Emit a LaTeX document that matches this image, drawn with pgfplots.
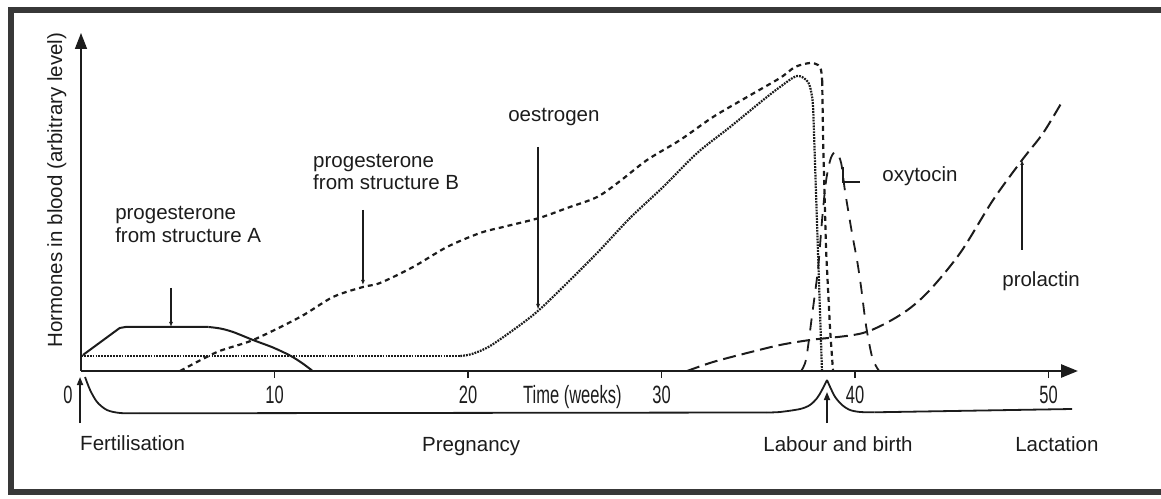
\documentclass[border=0pt]{standalone}
\usepackage{pgfplots}
\pgfplotsset{compat=1.18}
\usetikzlibrary{arrows.meta}
\usepackage{fontspec}
\setmainfont{Liberation Sans}
\newfontfamily\narrowfont[FakeStretch=0.66]{Liberation Sans}
\definecolor{ink}{HTML}{1C1C1C}
\newcommand\lbl{\fontsize{20.5}{24}\selectfont}
\newcommand\tck{\narrowfont\fontsize{25}{28}\selectfont}
\begin{document}
\begin{tikzpicture}
\useasboundingbox (0,0) rectangle (1161pt,498pt);
\draw[line width=6pt, color=black!78] (1165pt,488pt) -- (10.5pt,488pt) -- (10.5pt,6pt) -- (1165pt,6pt);
\begin{axis}[
  at={(81pt,127pt)}, anchor=south west,
  scale only axis, width=997pt, height=338pt,
  xmin=0, xmax=51.52, ymin=0, ymax=338,
  clip=false,
  axis lines=left,
  x axis line style={line width=2.6pt, color=ink, -{Triangle[length=17pt,width=13pt]}},
  y axis line style={line width=1.6pt, color=ink, -{Triangle[length=16pt,width=12pt]}},
  ytick=\empty,
  xtick={10,20,30,40,50},
  tick align=outside, major tick length=7pt,
  tick style={line width=1.5pt, color=ink},
  /pgf/number format/assume math mode=true,
  xticklabel style={font=\tck, anchor=base, inner sep=0pt, yshift=-25pt, text=ink},
  every node/.style={text=ink},
]
% progesterone from structure A (solid)
\addplot[ink, line width=2pt, sharp plot] coordinates {(0.10,16) (2.0,43) (2.3,44) (6.6,44)};
\addplot[ink, line width=2pt, smooth] coordinates {(6.6,44) (7.2,42.5) (7.86,39) (8.89,31) (9.92,23.5) (10.8,15.5) (11.42,8) (11.94,0.5)};
% oestrogen (fine dotted)
\addplot[ink, line width=2.2pt, dash pattern=on 1.8pt off 1.1pt, sharp plot] coordinates {(0,15) (19.6,15)};
\addplot[ink, line width=2.2pt, dash pattern=on 1.8pt off 1.1pt, smooth] coordinates {(19.6,15) (20.2,17) (21.14,25) (22.69,46) (23.67,61) (24.91,84) (26.67,118) (28.37,153) (30.08,184) (31.84,218) (33.54,244) (35.25,271) (36.12,284) (37.00,295) (37.57,289) (37.78,274) (37.84,260)};
\addplot[ink, line width=2.2pt, dash pattern=on 1.8pt off 1.1pt, sharp plot] coordinates {(37.84,260) (38.29,0)};
% progesterone from structure B (short dashes)
\addplot[ink, line width=2.2pt, dash pattern=on 5pt off 4pt, smooth] coordinates {(5.12,0) (7.03,19) (8.89,31) (11.32,54) (13.02,74) (14.57,84) (15.45,88) (17.16,104) (18.91,124) (20.62,138) (21.81,144) (23.67,153) (25.12,163) (26.67,174) (27.86,190) (29.25,211) (30.96,231) (32.66,254) (34.42,274) (36.12,293) (36.90,304) (37.67,308) (38.09,306) (38.24,301) (38.30,290)};
\addplot[ink, line width=2.2pt, dash pattern=on 5pt off 4pt, sharp plot] coordinates {(38.30,290) (38.36,220) (38.50,121) (38.71,41) (38.86,0)};
% oxytocin (long dashes)
\addplot[ink, line width=1.8pt, dash pattern=on 12pt off 9pt, smooth] coordinates {(37.21,0) (37.47,12) (37.78,56) (38.09,103) (38.29,150) (38.5,190) (38.75,213) (39.02,219) (39.28,208) (39.48,180) (39.84,138) (40.10,111) (40.31,84) (40.57,45) (40.88,14) (41.14,3) (41.25,0)};
% prolactin (long dashes)
\addplot[ink, line width=2pt, dash pattern=on 13pt off 6pt, smooth] coordinates {(31.32,0) (32.66,9) (34.42,18) (36.12,26) (37.67,31) (40.41,38) (42.33,56) (43.72,78) (45.43,118) (47.13,171) (48.63,211) (49.72,238) (50.75,271)};
% pointers
\addplot[ink, line width=1.3pt, -{Latex[length=5pt,width=4pt]}] coordinates {(4.65,83) (4.65,44)};
\addplot[ink, line width=1.3pt, -{Latex[length=5pt,width=4pt]}] coordinates {(14.57,161) (14.57,86)};
\addplot[ink, line width=1.3pt, -{Latex[length=6pt,width=4pt]}] coordinates {(23.62,224) (23.62,61)};
\addplot[ink, line width=1.3pt, -{Latex[length=5pt,width=4pt]}] coordinates {(48.63,121) (48.63,211)};
\addplot[ink, line width=1.8pt, sharp plot] coordinates {(39.38,204) (39.38,189) (40.26,189)};
% time line below axis
\addplot[ink, line width=1.8pt, smooth] coordinates {(0.21,-6) (0.47,-19) (0.83,-31) (1.34,-39) (2.02,-42) (3,-42.3)};
\addplot[ink, line width=1.8pt, sharp plot] coordinates {(3,-42.3) (35.4,-41.5)};
\addplot[ink, line width=1.8pt, smooth] coordinates {(35.4,-41.5) (36.12,-41) (37.16,-38) (37.67,-34) (38.04,-27) (38.29,-19) (38.55,-9)};
\addplot[ink, line width=1.8pt, smooth] coordinates {(38.55,-9) (38.71,-16) (38.97,-26) (39.33,-34) (39.74,-39) (40.26,-41) (41,-41.3)};
\addplot[ink, line width=1.8pt, sharp plot] coordinates {(41,-41.3) (51.21,-38)};
\addplot[ink, line width=1.6pt, -{Triangle[length=8pt,width=6pt]}] coordinates {(-0.05,-52) (-0.05,-6)};
\addplot[ink, line width=1.6pt, -{Triangle[length=8pt,width=6pt]}] coordinates {(38.55,-52) (38.55,-21)};
% labels
\begin{scope}[every node/.style={inner sep=0pt, text=ink, font=\lbl}]
\node[anchor=base west] at (axis cs:1.76,151) {progesterone};
\node[anchor=base west] at (axis cs:1.76,128) {from structure A};
\node[anchor=base west] at (axis cs:11.99,203) {progesterone};
\node[anchor=base west] at (axis cs:11.99,181) {from structure B};
\node[anchor=base west] at (axis cs:22.07,249) {oestrogen};
\node[anchor=base west] at (axis cs:41.40,189) {oxytocin};
\node[anchor=base west] at (axis cs:47.60,84) {prolactin};
\node[anchor=base west] at (axis cs:-0.05,-79) {Fertilisation};
\node[anchor=base west] at (axis cs:17.62,-80) {Pregnancy};
\node[anchor=base west] at (axis cs:35.25,-80) {Labour and birth};
\node[anchor=base west] at (axis cs:48.27,-80) {Lactation};
\node[anchor=base, rotate=90] at (axis cs:-0.98,181) {Hormones in blood (arbitrary level)};
\node[anchor=base, font=\tck] at (axis cs:-0.67,-32) {0};
\node[anchor=base west, font=\tck] at (axis cs:22.84,-32) {Time (weeks)};
\end{scope}
\end{axis}
\end{tikzpicture}
\end{document}
